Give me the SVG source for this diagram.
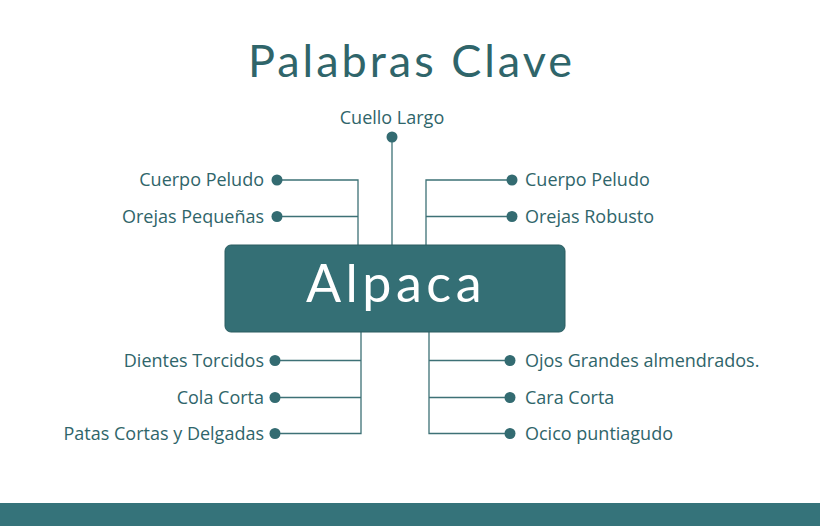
<svg xmlns="http://www.w3.org/2000/svg" width="820" height="526" viewBox="0 0 820 526">
<style>
.lbl{font-family:"Open Sans","Liberation Sans",sans-serif;font-size:18px;fill:#2f656a;}
.l{text-anchor:end;}
.dot{fill:#336b71;}
.con{fill:none;stroke:#3d7176;stroke-width:1.3;}
</style>
<rect width="820" height="526" fill="#ffffff"/>
<text id="title" x="411.5" y="77" text-anchor="middle" style="font-family:'Lato','Noto Sans',sans-serif;font-size:45px;fill:#2f656a;letter-spacing:3px">Palabras Clave</text>
<g id="connectors">
<path class="con" d="M392 137V245"/>
<path class="con" d="M277 180H358V245M277 216.5H358"/>
<path class="con" d="M512 180H426V245M512 216.5H426"/>
<path class="con" d="M275 360.5H361V332M275 397.5H361M275 433.5H361V360"/>
<path class="con" d="M510 360.5H429V332M510 397.5H429M510 433.5H429V360"/>
</g>
<g id="center">
<rect x="225" y="245" width="340" height="87" rx="6" fill="#346f75" stroke="#2a5c61" stroke-width="1"/>
<text x="396" y="302" text-anchor="middle" style="font-family:'Lato','Noto Sans',sans-serif;font-size:52px;fill:#ffffff;letter-spacing:4.5px">Alpaca</text>
</g>
<g id="n-cuello"><circle class="dot" cx="392" cy="137" r="5.5"/><text class="lbl" x="392" y="124" text-anchor="middle">Cuello Largo</text></g>
<g id="n-l1"><circle class="dot" cx="277" cy="180" r="5.5"/><text class="lbl l" x="264" y="186">Cuerpo Peludo</text></g>
<g id="n-l2"><circle class="dot" cx="277" cy="216.5" r="5.5"/><text class="lbl l" x="264" y="222.5">Orejas Pequeñas</text></g>
<g id="n-r1"><circle class="dot" cx="512" cy="180" r="5.5"/><text class="lbl" x="525" y="186">Cuerpo Peludo</text></g>
<g id="n-r2"><circle class="dot" cx="512" cy="216.5" r="5.5"/><text class="lbl" x="525" y="222.5">Orejas Robusto</text></g>
<g id="n-l3"><circle class="dot" cx="275" cy="360.5" r="5.5"/><text class="lbl l" x="264" y="366.5">Dientes Torcidos</text></g>
<g id="n-l4"><circle class="dot" cx="275" cy="397.5" r="5.5"/><text class="lbl l" x="264" y="403.5">Cola Corta</text></g>
<g id="n-l5"><circle class="dot" cx="275" cy="433.5" r="5.5"/><text class="lbl l" x="264" y="439.5">Patas Cortas y Delgadas</text></g>
<g id="n-r3"><circle class="dot" cx="510" cy="360.5" r="5.5"/><text class="lbl" x="525" y="366.5">Ojos Grandes almendrados.</text></g>
<g id="n-r4"><circle class="dot" cx="510" cy="397.5" r="5.5"/><text class="lbl" x="525" y="403.5">Cara Corta</text></g>
<g id="n-r5"><circle class="dot" cx="510" cy="433.5" r="5.5"/><text class="lbl" x="525" y="439.5">Ocico puntiagudo</text></g>
<rect id="bottom-bar" x="0" y="503" width="820" height="23" fill="#35737a"/>
</svg>
